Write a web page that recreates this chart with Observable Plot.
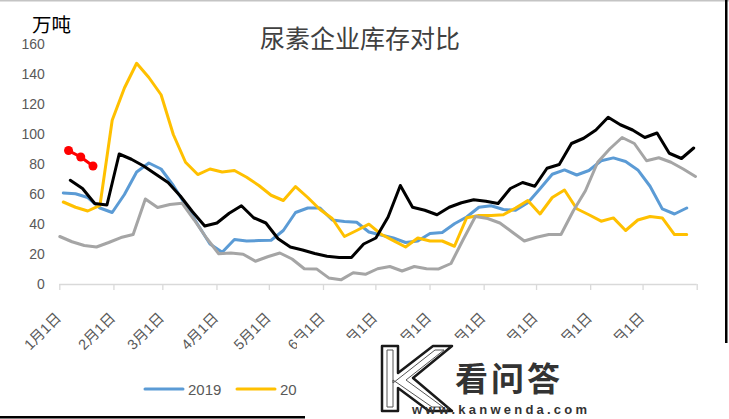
<!DOCTYPE html>
<html><head><meta charset="utf-8">
<script src="https://cdn.jsdelivr.net/npm/d3@7"></script>
<script src="https://cdn.jsdelivr.net/npm/@observablehq/plot@0.6"></script>
<style>
html,body{margin:0;padding:0;background:#fff;}
#wrap{position:relative;width:729px;height:419px;overflow:hidden;background:#fff;}
#wrap svg{position:absolute;left:0;top:0;}
</style></head><body><div id="wrap"></div>
<script>
// ---- data ----
const title = "尿素企业库存对比";
const unitLabel = "万吨";
const monthTicks = ["2019-01-01","2019-02-01","2019-03-01","2019-04-01","2019-05-01","2019-06-01","2019-07-01","2019-08-01","2019-09-01","2019-10-01","2019-11-01","2019-12-01","2020-01-01"];
const monthLabels = ["1月1日","2月1日","3月1日","4月1日","5月1日","6月1日","7月1日","8月1日","9月1日","10月1日","11月1日","12月1日"];
const yTicks = [0,20,40,60,80,100,120,140,160];
const seriesNames = ["2019","2020","2021","2022","2023"];
const seriesColors = ["#5B9BD5","#FFC000","#A5A5A5","#000000","#FF0000"];
const seriesStarts = ["2019-01-03","2019-01-03","2019-01-01","2019-01-07","2019-01-06"]; // weekly points, plotted on a common calendar
const legendShown = ["2019","2020"]; // the rest of the legend is hidden under the watermark
const v2019 = [61,60.5,58,51,48,60,75,81,77,66,53,40,27,21.5,30,29,29.3,29.5,36,48,51,51,43,42,41.5,35,33,31,28,29,34,34.7,40.5,45,51.5,52.5,50,49.5,54.5,63.8,73.5,76.4,73,76,82.5,84.4,82,76.4,65.5,50.4,47,51];
const v2020 = [55,51.5,49,52.7,109.5,131,147.5,138,126.5,100,81.5,73.3,77,75,76,71.5,66,59.5,56,65.3,58,50,44,32,36,40.2,33.5,29.3,25,31,29,29,25.5,44.5,46,46,46.5,51,56,47,58,63,50.5,46.5,42.2,44.4,36,43,45.3,44.4,33.3,33.3];
const v2021 = [32,28.5,26,25,28,31.3,33.3,57,51.3,53.3,54.2,43,31,20.5,21,20.2,15.5,18.5,21,17,10.5,10.4,4.4,3.1,7.8,6.8,10.5,12,9,12,10.5,10.4,14,30,45.3,44,41,35,29,31.5,33.3,33.3,49,62.5,81.5,90.5,98,94,82.5,84.5,81.5,77,72];
const v2022 = [69.5,64,54,53,87,83.5,79,73.5,68,59,48.5,39,41,47.5,52.5,44.5,41,30.5,25,23,20.7,18.8,18,18,27,31,45,66,51.5,49.5,46.5,51.5,54.5,56.5,55.5,54,64,68,65.5,77.5,80,94,97.5,103,111.5,106.5,103,98,101,87.5,84,91];
const v2023 = [89.3,85,79];
const seriesValues = [v2019,v2020,v2021,v2022,v2023];

// ---- build table ----
const rows = [];
seriesNames.forEach((name,k)=>{
  const s = new Date(seriesStarts[k]);
  seriesValues[k].forEach((v,i)=>rows.push({series:name, date:d3.utcDay.offset(s,7*i), value:v}));
});
const tickDates = monthTicks.map(d=>new Date(d));
const labelDates = tickDates.slice(0,12);
const font = '"Liberation Sans", Arial, "Noto Sans CJK SC", sans-serif';

const chart = Plot.plot({
  width: 729, height: 419,
  marginLeft: 59.3, marginRight: 32.3, marginTop: 44, marginBottom: 135,
  x: {type:"utc", domain:[tickDates[0], tickDates[12]]},
  y: {domain:[0,160]},
  style: {fontFamily: font, fontSize:"14px", background:"transparent", color:"#595959", overflow:"visible"},
  marks: [
    Plot.axisY({ticks: yTicks, tickSize: 0, tickPadding: 15, fontSize: 14, fill:"#595959", label: null}),
    Plot.ruleY([0], {stroke:"#d9d9d9", strokeWidth:1.3}),
    Plot.axisX({ticks: tickDates, tickSize: 6, stroke:"#d9d9d9", strokeWidth:1.3, strokeOpacity:1, tickFormat: () => null, label: null}),
    Plot.text(labelDates, {x: d=>d, text: d=>monthLabels[d.getUTCMonth()], frameAnchor:"bottom", rotate:-45, textAnchor:"end", lineAnchor:"middle", dx:-1, dy:31, fontSize:14.5, fill:"#595959"}),
    ...seriesNames.map((name,k)=>Plot.line(rows.filter(r=>r.series===name), {x:"date", y:"value", stroke:seriesColors[k], strokeWidth:3, strokeLinejoin:"round", strokeLinecap:"round"})),
    Plot.dot(rows.filter(r=>r.series==="2023"), {x:"date", y:"value", r:4.5, fill:"#FF0000", stroke:"none"})
  ]
});
const wrap = document.getElementById("wrap");
wrap.appendChild(chart);

// ---- overlay: title, unit, legend, frame, watermark ----
const ov = d3.select(wrap).append("svg").attr("width",729).attr("height",419).style("pointer-events","none");
ov.append("defs").append("clipPath").attr("id","lgclip").append("rect").attr("x",0).attr("y",0).attr("width",297).attr("height",419);
ov.append("rect").attr("x",0).attr("y",0).attr("width",729).attr("height",1.5).attr("fill","#c4c4c4");
ov.append("text").attr("x",360).attr("y",37).attr("text-anchor","middle").attr("dominant-baseline","central")
  .attr("font-family",'"Noto Sans CJK SC", sans-serif').attr("font-size",25).attr("fill","#404040").text(title);
ov.append("text").attr("x",32).attr("y",23).attr("dominant-baseline","central")
  .attr("font-family",'"Noto Sans CJK SC", sans-serif').attr("font-size",19.5).attr("fill","#000").text(unitLabel);
const lg = ov.append("g").attr("clip-path","url(#lgclip)");
legendShown.forEach((name,k)=>{
  const x0 = 145 + 92*k;
  const c = seriesColors[seriesNames.indexOf(name)];
  lg.append("line").attr("x1",x0).attr("x2",x0+38).attr("y1",389).attr("y2",389).attr("stroke",c).attr("stroke-width",3).attr("stroke-linecap","round");
  lg.append("text").attr("x",x0+43).attr("y",389).attr("dominant-baseline","central").attr("font-family",font).attr("font-size",15).attr("fill","#595959").text(name);
});
// watermark box
ov.append("rect").attr("x",297).attr("y",338).attr("width",432).attr("height",81).attr("fill","#fff");
ov.append("rect").attr("x",725).attr("y",0).attr("width",2.5).attr("height",343).attr("fill","#000");
ov.append("rect").attr("x",0).attr("y",416).attr("width",305).attr("height",2.5).attr("fill","#000");
// K logo (graphic)
ov.append("path").attr("d","M382,346 L398,346 L398,373 L433,346 L452,346 L413,378 L452,411 L429,411 L398,388 L398,411 L382,411 Z")
  .attr("fill","#fff").attr("stroke","#1a1a1a").attr("stroke-width",2.5).attr("stroke-linejoin","round");
ov.append("path").attr("d","M387,350 L393,350 L393,383 L435,350 L444,350 L406,380 L443,407 L432,407 L393,380 L393,407 L387,407 Z")
  .attr("fill","none").attr("stroke","#555").attr("stroke-width",1);
ov.append("text").attr("x",455).attr("y",377).attr("dominant-baseline","central").attr("font-family",'"Noto Sans CJK SC", sans-serif')
  .attr("font-weight","bold").attr("font-size",33).attr("textLength",105).attr("fill","#333").text("看问答");
ov.append("text").attr("x",412).attr("y",414).attr("font-family",'"Liberation Sans", Arial, sans-serif').attr("font-weight","bold")
  .attr("font-size",13).attr("textLength",175).attr("lengthAdjust","spacing").attr("fill","#333").text("www.kanwenda.com");
</script></body></html>
